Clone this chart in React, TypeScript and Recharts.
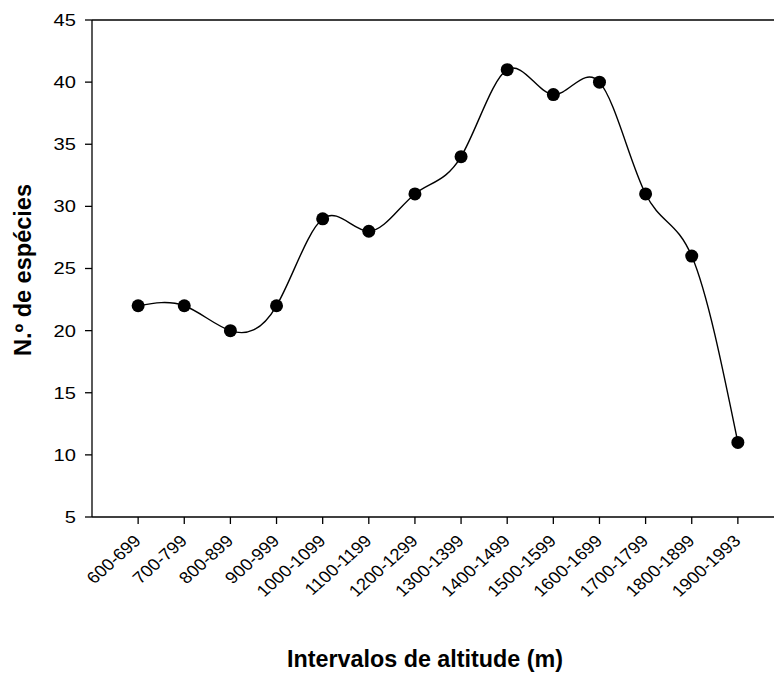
import React from "react";
import { LineChart, Line, XAxis, YAxis, ReferenceLine } from "recharts";

const categories = [
  "600-699", "700-799", "800-899", "900-999", "1000-1099", "1100-1199", "1200-1299",
  "1300-1399", "1400-1499", "1500-1599", "1600-1699", "1700-1799", "1800-1899", "1900-1993",
];
const species = [22, 22, 20, 22, 29, 28, 31, 34, 41, 39, 40, 31, 26, 11];
const yTicks = [5, 10, 15, 20, 25, 30, 35, 40, 45];
const xPositions = categories.map((_, i) => i + 1);

const data = categories.map((c, i) => ({ x: xPositions[i], label: c, value: species[i] }));

const FONT = "Arial, 'Liberation Sans', Helvetica, sans-serif";

const YTick = (props: any) => {
  const { x, y, payload } = props;
  return (
    <g transform={`translate(${x},${y}) scale(1.22,1)`}>
      <text x={0} y={0} dy="0.36em" textAnchor="end" fontSize={16.5} fontFamily={FONT} fill="#000">
        {payload.value}
      </text>
    </g>
  );
};

const XTick = (props: any) => {
  const { x, y, payload } = props;
  const label = categories[payload.value - 1] ?? "";
  return (
    <g transform={`translate(${x + 4},${y + 18}) scale(1.12,1) rotate(-45)`}>
      <text x={0} y={0} textAnchor="end" fontSize={16.5} fontFamily={FONT} fill="#000">
        {label}
      </text>
    </g>
  );
};

export default function App() {
  return (
    <div
      style={{
        position: "absolute",
        left: 8,
        top: 8,
        width: 766,
        height: 665,
        overflow: "hidden",
        background: "#fff",
      }}
    >
      <LineChart
        width={780}
        height={665}
        data={data}
        margin={{ top: 12, right: 4, bottom: 0, left: 0 }}
      >
        <XAxis
          dataKey="x"
          type="number"
          domain={[0, 15]}
          ticks={xPositions}
          interval={0}
          height={156}
          tickSize={7}
          tickMargin={0}
          axisLine={{ stroke: "#000", strokeWidth: 1.3 }}
          tickLine={{ stroke: "#000", strokeWidth: 1.3 }}
          tick={<XTick />}
          label={{
            content: () => (
              <text
                x={417}
                y={659}
                textAnchor="middle"
                fontSize={23}
                fontWeight="bold"
                fontFamily={FONT}
                fill="#000"
                textLength={276}
                lengthAdjust="spacingAndGlyphs"
              >
                Intervalos de altitude (m)
              </text>
            ),
          }}
        />
        <YAxis
          type="number"
          domain={[5, 45]}
          ticks={yTicks}
          interval={0}
          width={84}
          tickSize={7}
          tickMargin={9}
          axisLine={{ stroke: "#000", strokeWidth: 1.3 }}
          tickLine={{ stroke: "#000", strokeWidth: 1.3 }}
          tick={<YTick />}
          label={{
            content: () => (
              <text
                x={23}
                y={262}
                transform="rotate(-90, 23, 262)"
                textAnchor="middle"
                fontSize={23}
                fontWeight="bold"
                fontFamily={FONT}
                fill="#000"
                textLength={172}
                lengthAdjust="spacingAndGlyphs"
              >
                N.º de espécies
              </text>
            ),
          }}
        />
        <ReferenceLine y={45} stroke="#000" strokeWidth={1.3} />
        <Line
          type="natural"
          dataKey="value"
          stroke="#000"
          strokeWidth={1.4}
          dot={{ r: 6.5, fill: "#000", stroke: "#000", strokeWidth: 0 }}
          activeDot={false}
          isAnimationActive={false}
        />
      </LineChart>
    </div>
  );
}
